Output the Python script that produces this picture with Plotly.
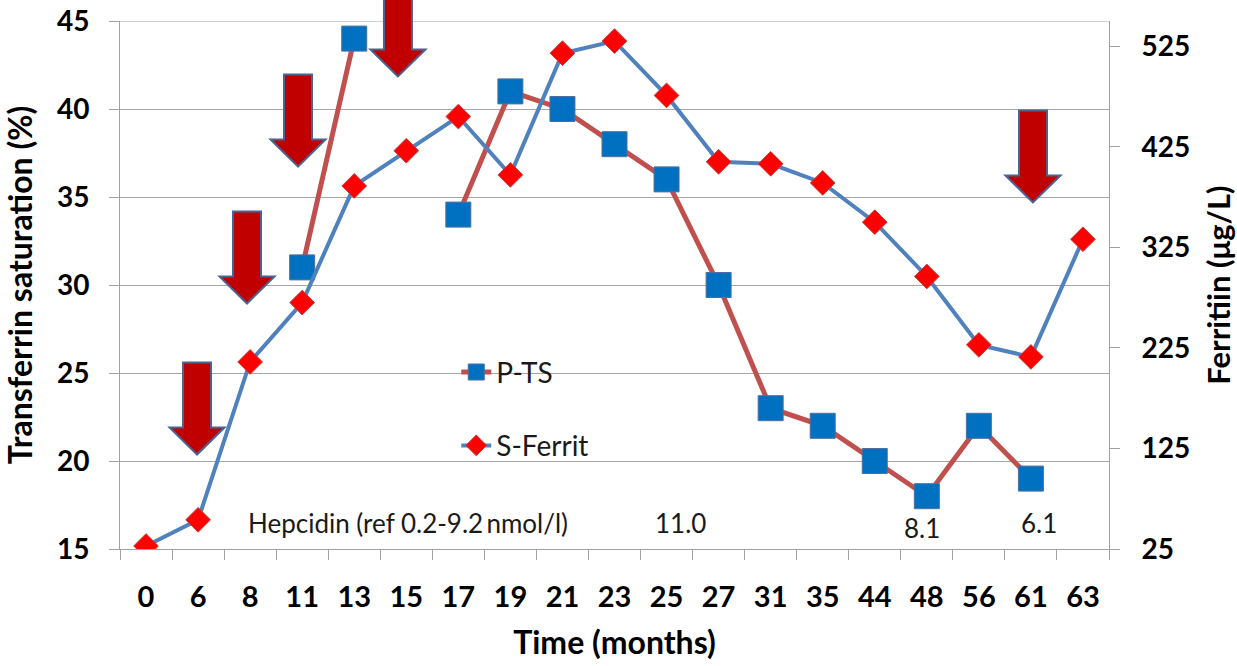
import plotly.graph_objects as go

# ---- data ----
months = ["0", "6", "8", "11", "13", "15", "17", "19", "21", "23", "25", "27",
          "31", "35", "44", "48", "56", "61", "63"]
p_ts = [None, None, None, 31, 44, None, 34, 41, 40, 38, 36, 30,
        23, 22, 20, 18, 22, 19, None]
s_ferrit = [28, 54, 211, 270, 386, 421, 455, 397, 518, 530, 476, 410,
            408, 389, 350, 296, 228, 216, 333]
ts_ticks = [15, 20, 25, 30, 35, 40, 45]
ferr_ticks = [25, 125, 225, 325, 425, 525]

# iron-infusion arrows: (category index of tip, TS value at tip)
arrow_idx = [0.98, 1.94, 2.92, 4.84, 17.04]
arrow_tip = [20.37, 28.95, 36.73, 41.85, 34.69]

# hepcidin labels: (category index, TS level, text)
hep_idx = [5.03, 10.26, 14.9, 17.16]
hep_y = [16.5, 16.5, 16.2, 16.45]
hep_txt = ["Hepcidin (ref 0.2-9.2\u2009nmol/l)", "11.0", "8.1", "6.1"]

FONT = "Lato"
TS_RANGE = [15, 45]
FE_RANGE = [25, 550]
W, H = 1237, 666
PW, PH = 989, 528
ML, MT = 120, 21
MR, MB = W - ML - PW, H - MT - PH

fig = go.Figure()
fig.add_trace(go.Scatter(
    x=months, y=p_ts, name="P-TS", mode="lines+markers",
    line=dict(color="#C0504D", width=5),
    marker=dict(symbol="square", size=25, color="#0070C0",
                line=dict(color="#4F6FA0", width=1)),
    legendgroup="a", connectgaps=False))
fig.add_trace(go.Scatter(
    x=months, y=s_ferrit, name="S-Ferrit", mode="lines+markers",
    line=dict(color="#4F81BD", width=4),
    marker=dict(symbol="diamond", size=19, color="#FF0000",
                line=dict(color="#C04040", width=1)),
    yaxis="y2", legendgroup="b"))

# arrows (shapes in paper coordinates, anchored at data tip)
shapes = []
n = len(months)
for ix, tv in zip(arrow_idx, arrow_tip):
    px = (ix + 0.5) / n
    py = (tv - TS_RANGE[0]) / (TS_RANGE[1] - TS_RANGE[0])
    sw = 14 / PW
    hw = 27.5 / PW
    hh = 27 / PH
    ln = 92 / PH
    path = (f"M {px},{py} L {px-hw},{py+hh} L {px-sw},{py+hh} L {px-sw},{py+ln} "
            f"L {px+sw},{py+ln} L {px+sw},{py+hh} L {px+hw},{py+hh} Z")
    shapes.append(dict(type="path", path=path, xref="paper", yref="paper",
                       fillcolor="#C00000", line=dict(color="#4A6491", width=2),
                       layer="above"))
# top gridline at 45 (plot-area edge)
shapes.append(dict(type="line", xref="paper", yref="y", x0=0, x1=1,
                   y0=TS_RANGE[1], y1=TS_RANGE[1],
                   line=dict(color="#A6A6A6", width=1), layer="below"))

annotations = []
for ix, yv, t in zip(hep_idx, hep_y, hep_txt):
    annotations.append(dict(x=ix, y=yv, xref="x", yref="y", text=t,
                            showarrow=False,
                            font=dict(family=FONT, size=26, color="#1a1a1a")))

BOLD = dict(family=FONT, color="black", weight="bold")

fig.update_layout(
    width=W, height=H,
    margin=dict(l=ML, r=MR, t=MT, b=MB, autoexpand=False),
    paper_bgcolor="white", plot_bgcolor="white",
    font=dict(family=FONT, color="black"),
    shapes=shapes, annotations=annotations,
    showlegend=True,
    legend=dict(x=0.34, y=0.382, xanchor="left", yanchor="top",
                bgcolor="rgba(0,0,0,0)", tracegroupgap=34,
                font=dict(family=FONT, size=28, color="#1a1a1a")),
    xaxis=dict(type="category", range=[-0.5, len(months) - 0.5],
               tickson="boundaries", ticks="outside", automargin=False,
               ticklen=10, tickcolor="#A0A0A0", showline=True,
               linecolor="#A0A0A0", showgrid=False, ticklabelstandoff=22,
               tickfont=dict(size=29, **BOLD),
               title=dict(text="Time (months)", font=dict(size=32, **BOLD),
                          standoff=19)),
    yaxis=dict(range=TS_RANGE, tickvals=ts_ticks, ticks="outside", ticklen=10,
               tickcolor="#A0A0A0", showline=True, linecolor="#A0A0A0",
               automargin=False, ticklabelstandoff=14,
               ticklabeloverflow="allow",
               showgrid=True, gridcolor="#A6A6A6", zeroline=False,
               tickfont=dict(size=28, **BOLD),
               title=dict(text="Transferrin saturation (%)",
                          font=dict(size=32, **BOLD), standoff=14)),
    yaxis2=dict(range=FE_RANGE, tickvals=ferr_ticks, overlaying="y",
                side="right", ticks="outside", ticklen=10, automargin=False,
                tickcolor="#A0A0A0", showline=True, linecolor="#A0A0A0",
                showgrid=False, zeroline=False, ticklabelstandoff=16,
                ticklabeloverflow="allow",
                tickfont=dict(size=28, **BOLD),
                title=dict(text="Ferritiin (\u03bcg/L)",
                           font=dict(size=31, **BOLD), standoff=20)),
)

fig.write_html("out.html", config={"displayModeBar": False},
               post_script="document.body.style.margin='0';")
